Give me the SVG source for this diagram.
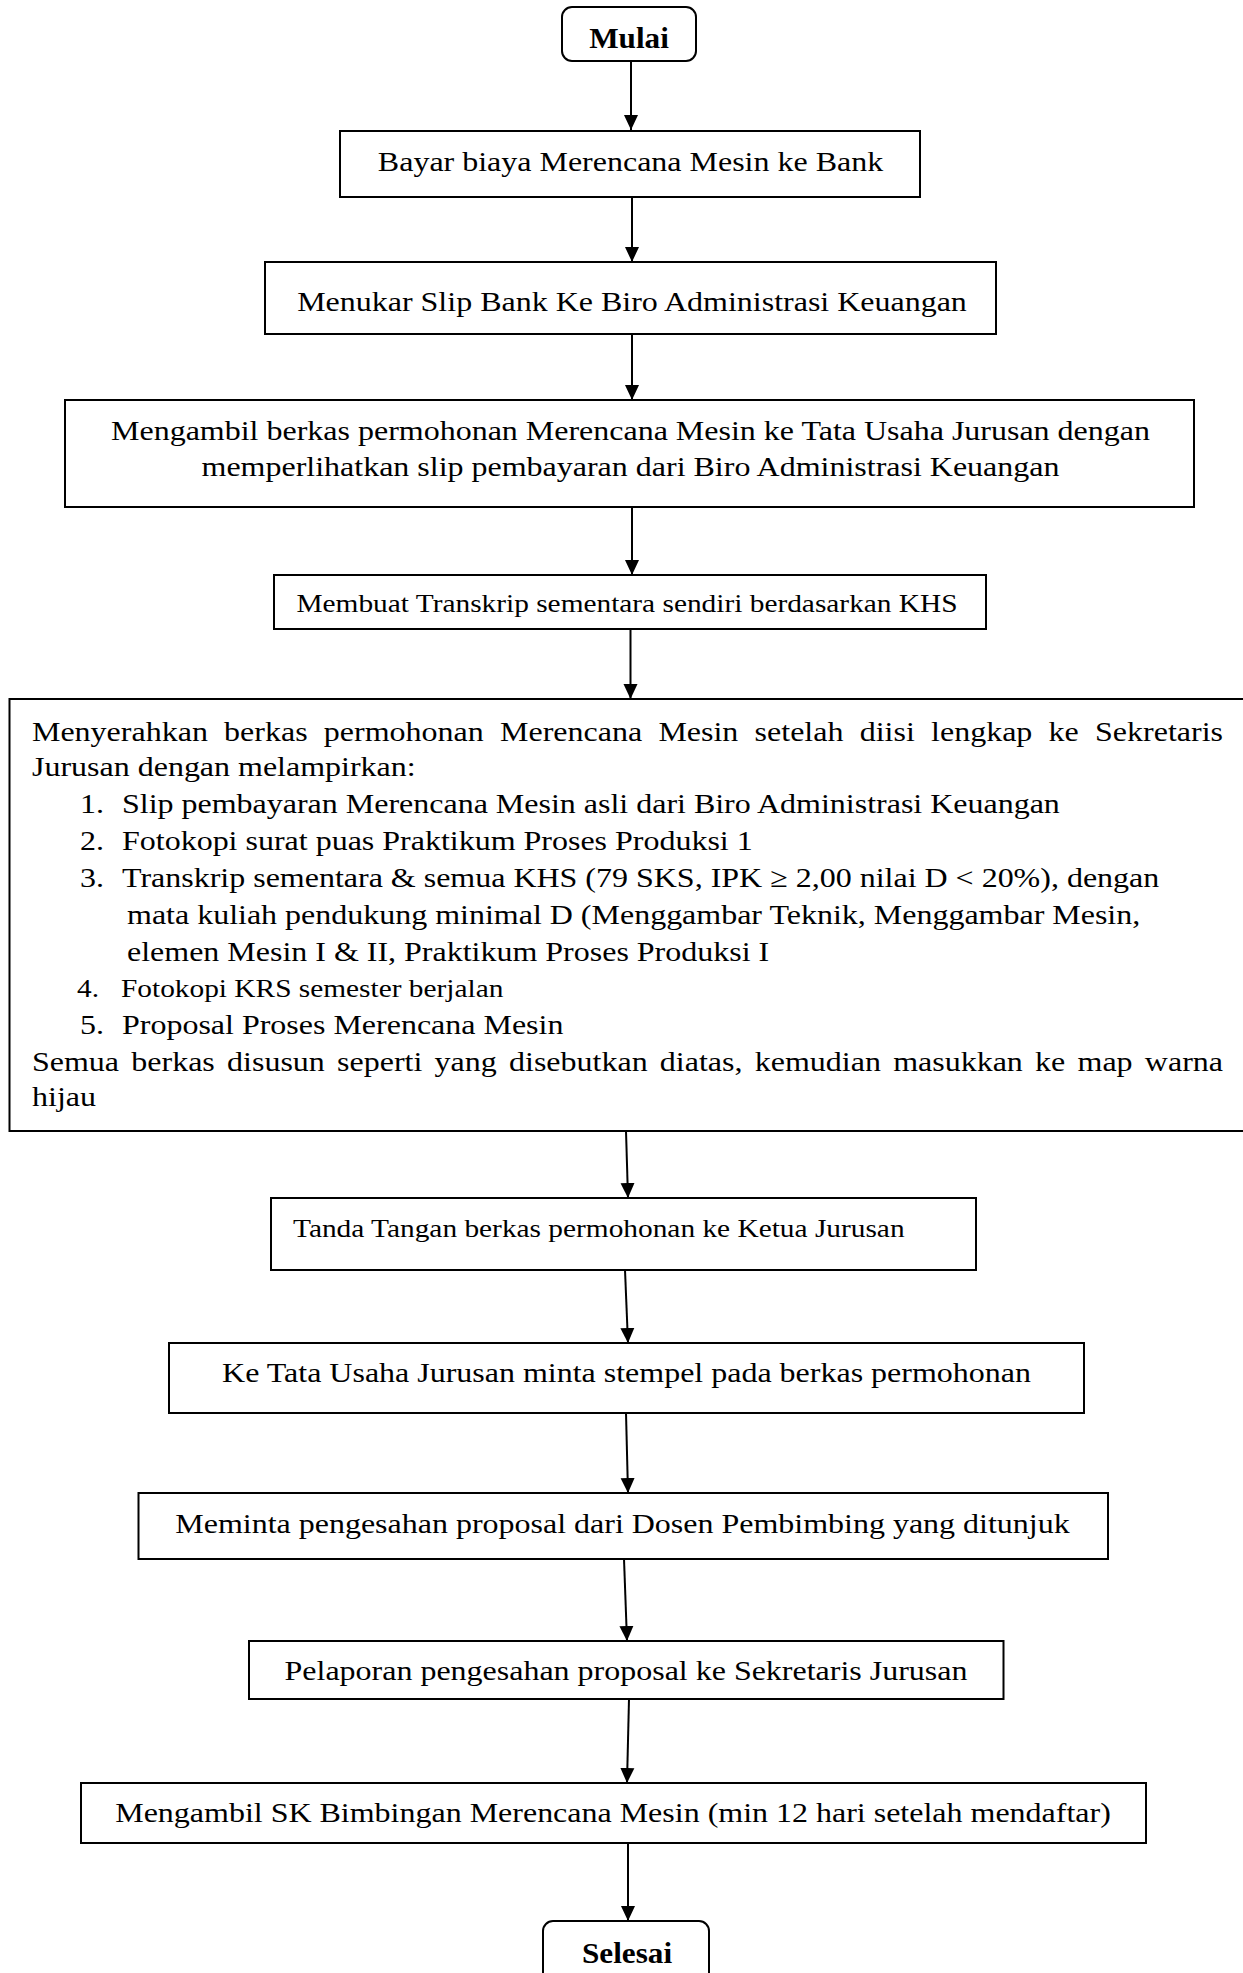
<svg xmlns="http://www.w3.org/2000/svg" width="1243" height="1973" viewBox="0 0 1243 1973">
<style>
.bx{fill:#fff;stroke:#000;stroke-width:2}
.t{font-family:"Liberation Serif","Times New Roman",serif;font-size:28px;fill:#000}
.s{font-family:"Liberation Serif","Times New Roman",serif;font-size:25.7px;fill:#000}
.b{font-family:"Liberation Serif","Times New Roman",serif;font-size:30px;font-weight:bold;fill:#000}
.m{text-anchor:middle}
.c{fill:none;stroke:#000;stroke-width:2}
</style>
<defs>
<marker id="ah" markerUnits="userSpaceOnUse" markerWidth="16" markerHeight="16" viewBox="0 0 16 16" refX="15" refY="8" orient="auto">
<path d="M0,1 L15,8 L0,15 Z" fill="#000"/>
</marker>
</defs>
<rect width="1243" height="1973" fill="#fff"/>
<g id="connectors">
<line class="c" x1="631" y1="61" x2="631" y2="130" marker-end="url(#ah)"/>
<line class="c" x1="632" y1="197" x2="632" y2="262" marker-end="url(#ah)"/>
<line class="c" x1="632" y1="334" x2="632" y2="400" marker-end="url(#ah)"/>
<line class="c" x1="632" y1="507" x2="632" y2="575" marker-end="url(#ah)"/>
<line class="c" x1="630.5" y1="629" x2="630.5" y2="699" marker-end="url(#ah)"/>
<line class="c" x1="626" y1="1131" x2="628" y2="1198" marker-end="url(#ah)"/>
<line class="c" x1="625" y1="1270" x2="628" y2="1343" marker-end="url(#ah)"/>
<line class="c" x1="626" y1="1413" x2="628" y2="1493" marker-end="url(#ah)"/>
<line class="c" x1="624" y1="1559" x2="627" y2="1641" marker-end="url(#ah)"/>
<line class="c" x1="629" y1="1699" x2="627" y2="1783" marker-end="url(#ah)"/>
<line class="c" x1="628" y1="1843" x2="628" y2="1921" marker-end="url(#ah)"/>
</g>
<g id="mulai">
<rect class="bx" x="562" y="7" width="134" height="54" rx="10"/>
<text class="b m" transform="translate(629,48) scale(1.04,1)">Mulai</text>
</g>
<g id="bayar">
<rect class="bx" x="340" y="131" width="580" height="66"/>
<text class="t m" transform="translate(630.5,171) scale(1.143,1)">Bayar biaya Merencana Mesin ke Bank</text>
</g>
<g id="menukar">
<rect class="bx" x="265" y="262" width="731" height="72"/>
<text class="t m" transform="translate(632,311) scale(1.143,1)">Menukar Slip Bank Ke Biro Administrasi Keuangan</text>
</g>
<g id="mengambil-berkas">
<rect class="bx" x="65" y="400" width="1129" height="107"/>
<text class="t m" transform="translate(630.5,440) scale(1.143,1)">Mengambil berkas permohonan Merencana Mesin ke Tata Usaha Jurusan dengan</text>
<text class="t m" transform="translate(630.5,476) scale(1.143,1)">memperlihatkan slip pembayaran dari Biro Administrasi Keuangan</text>
</g>
<g id="membuat">
<rect class="bx" x="274" y="575" width="712" height="54"/>
<text class="s m" transform="translate(627,612) scale(1.143,1)">Membuat Transkrip sementara sendiri berdasarkan KHS</text>
</g>
<g id="menyerahkan">
<rect class="bx" x="9.5" y="699" width="1250" height="432"/>
<text class="t" transform="translate(32,741) scale(1.143,1)" word-spacing="7.2" textLength="1042" lengthAdjust="spacing">Menyerahkan berkas permohonan Merencana Mesin setelah diisi lengkap ke Sekretaris</text>
<text class="t" transform="translate(32,776) scale(1.143,1)">Jurusan dengan melampirkan:</text>
<text class="t" transform="translate(80,813) scale(1.143,1)">1.</text>
<text class="t" transform="translate(122,813) scale(1.143,1)">Slip pembayaran Merencana Mesin asli dari Biro Administrasi Keuangan</text>
<text class="t" transform="translate(80,850) scale(1.143,1)">2.</text>
<text class="t" transform="translate(122,850) scale(1.143,1)">Fotokopi surat puas Praktikum Proses Produksi 1</text>
<text class="t" transform="translate(80,887) scale(1.143,1)">3.</text>
<text class="t" transform="translate(122,887) scale(1.143,1)">Transkrip sementara &amp; semua KHS (79 SKS, IPK ≥ 2,00 nilai D &lt; 20%), dengan</text>
<text class="t" transform="translate(127,924) scale(1.143,1)">mata kuliah pendukung minimal D (Menggambar Teknik, Menggambar Mesin,</text>
<text class="t" transform="translate(127,961) scale(1.143,1)">elemen Mesin I &amp; II, Praktikum Proses Produksi I</text>
<text class="s" transform="translate(77,997) scale(1.143,1)">4.</text>
<text class="s" transform="translate(121,997) scale(1.143,1)">Fotokopi KRS semester berjalan</text>
<text class="t" transform="translate(80,1034) scale(1.143,1)">5.</text>
<text class="t" transform="translate(122,1034) scale(1.143,1)">Proposal Proses Merencana Mesin</text>
<text class="t" transform="translate(32,1071) scale(1.143,1)" word-spacing="3.7" textLength="1042" lengthAdjust="spacing">Semua berkas disusun seperti yang disebutkan diatas, kemudian masukkan ke map warna</text>
<text class="t" transform="translate(32,1106) scale(1.143,1)">hijau</text>
</g>
<g id="tanda-tangan">
<rect class="bx" x="271" y="1198" width="705" height="72"/>
<text class="s" transform="translate(293,1237) scale(1.143,1)">Tanda Tangan berkas permohonan ke Ketua Jurusan</text>
</g>
<g id="ke-tata-usaha">
<rect class="bx" x="169" y="1343" width="915" height="70"/>
<text class="t m" transform="translate(626.5,1382) scale(1.143,1)">Ke Tata Usaha Jurusan minta stempel pada berkas permohonan</text>
</g>
<g id="meminta">
<rect class="bx" x="138.5" y="1493" width="969.5" height="66"/>
<text class="t m" transform="translate(622.5,1533) scale(1.143,1)">Meminta pengesahan proposal dari Dosen Pembimbing yang ditunjuk</text>
</g>
<g id="pelaporan">
<rect class="bx" x="249" y="1641" width="754.5" height="58"/>
<text class="t m" transform="translate(626,1680) scale(1.143,1)">Pelaporan pengesahan proposal ke Sekretaris Jurusan</text>
</g>
<g id="mengambil-sk">
<rect class="bx" x="81" y="1783" width="1065" height="60"/>
<text class="t m" transform="translate(613,1822) scale(1.143,1)">Mengambil SK Bimbingan Merencana Mesin (min 12 hari setelah mendaftar)</text>
</g>
<g id="selesai">
<rect class="bx" x="543" y="1921" width="166" height="70" rx="10"/>
<text class="b m" transform="translate(627,1963) scale(1.04,1)">Selesai</text>
</g>
</svg>
